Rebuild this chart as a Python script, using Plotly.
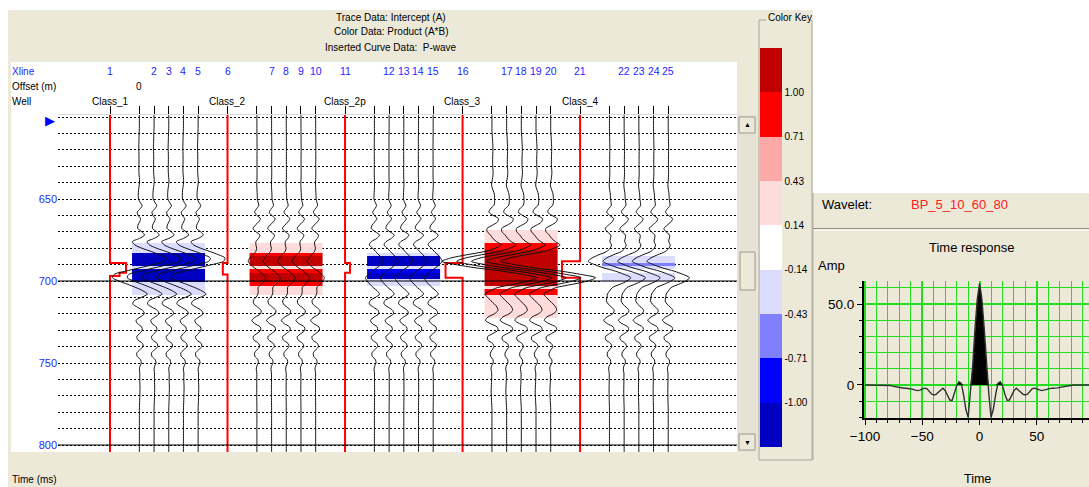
import plotly.graph_objects as go

W, H = 1089, 487
FONT = "Liberation Sans"
BEIGE = "#ECE9D8"
BLUE_TXT = "#1F1FFF"

# ---------------- model layout (x in trace-spacing units) ----------------
well_names = ["Class_1", "Class_2", "Class_2p", "Class_3", "Class_4"]
well_pos = [0, 8, 16, 24, 32]
trace_slots = [2, 3, 4, 5, 6]
xline_numbers = list(range(1, 26))
offset_label = "0"
px_per_spacing = 14.69

# P-wave log inserted at each well: times where the curve steps and the new shift
pwave_break_times = [[689, 695, 697], [689, 696], [689, 695], [689, 698], [688, 698]]
pwave_shifts = [[1.09, 0.65, 0.0], [-0.32, 0.0], [0.34, 0.0], [-1.16, 0.0], [-1.23, 0.0]]

# intercept reflections for each model: times (ms) and amplitudes (trace spacings)
refl_times = [[686, 698], [688, 698], [688, 698], [688, 698], [688, 698]]
refl_amps = [[1.48, -1.48], [-0.45, 0.45], [0.46, -0.46], [-2.7, 2.2], [-1.1, 1.1]]

# ringing common to every synthetic trace (deflection in pixels)
ring_times = list(range(644, 760, 2))
ring_px = [
    0, 0, 0, 0, 1, 2, 0, -2, 0, 3, 1, -2, -3.5, 0, 4, 2, -2, -3, -1, 0,
    0, 0, 0, 0, 0, 0, 0, 0, 0, 0,
    0, 2, 3, 0, -4, -4, 0, 4, 4, -1, -4.5, -2, 3, 3.5, 0, -3.5, -2.5, 2, 3, 0,
    -2.5, -2, 1, 1.5, 0, -0.5, 0, 0,
]

# wavelet BP_5_10_60_80, time response
wavelet_time = list(range(-100, 101, 2))
wavelet_amp = [
    0, 0, 0, 0, 0, 0, 0, 0, 0, 0, 0,
    -0.3, -0.7, -1.0, -1.2, -1.5, -1.8, -2.0, -2.0, -2.1, -2.3,
    -2.7, -3.2, -3.5, -3.2, -2.6, -2.0, -2.2, -4.0, -5.6, -6.2,
    -5.8, -4.5, -3.0, -2.0, -3.5, -6.5, -9.3, -9.5, -5.5, -0.5,
    2.0, 1.0, -6.0, -15.0, -20.0, -5.0, 12.0, 35.0, 53.0,
    62.8,
    53.0, 35.0, 12.0, -5.0, -20.0, -15.0, -6.0, 1.0, 2.0,
    -0.5, -5.5, -9.5, -9.3, -6.5, -3.5, -2.0, -3.0, -4.5, -5.8,
    -6.2, -5.6, -4.0, -2.2, -2.0, -2.6, -3.2, -3.5, -3.2, -2.7,
    -2.3, -2.1, -2.0, -2.0, -1.8, -1.5, -1.2, -1.0, -0.7, -0.3,
    0, 0, 0, 0, 0, 0, 0, 0, 0, 0, 0,
]

# colour data: product A*B sampled every 2 ms (None = no colour)
color_times = list(range(668, 728, 2))
N = None
product_values = [
    # Class_1
    [N, N, N, N, N, -0.3, -0.3, -0.3, -1.1, -1.1, -1.1, -1.1, -0.3, -1.1, -1.1,
     -1.1, -1.1, -0.3, -0.3, -0.3, -0.3, N, N, N, N, N, N, N, N, N],
    # Class_2
    [N, N, N, N, N, 0.3, 0.3, 0.3, 0.85, 1.1, 1.1, 1.1, 0.3, 0.85, 1.1,
     1.1, 1.1, 0.85, 0.3, 0.3, 0.3, N, N, N, N, N, N, N, N, N],
    # Class_2p
    [N, N, N, N, N, N, N, N, -0.3, -1.1, -1.1, -1.1, -0.3, -0.85, -1.1,
     -1.1, -0.3, -0.3, N, N, N, N, N, N, N, N, N, N, N, N],
    # Class_3
    [N, 0.3, 0.3, 0.3, 0.3, 0.85, 0.85, 1.1, 1.1, 1.1, 1.1, 1.1, 1.1, 1.1, 1.1,
     1.1, 1.1, 1.1, 0.3, 0.85, 0.85, 0.3, 0.3, 0.3, 0.3, 0.3, 0.3, 0.3, N, N],
    # Class_4
    [N, N, N, N, N, N, N, N, N, -0.3, -0.3, -0.55, -0.3, N, -0.3,
     -0.3, -0.3, N, N, N, N, N, N, N, N, N, N, N, N, N],
]

# colour key
key_colors = ["#0000C0", "#0000FF", "#8080FF", "#DCDCFF", "#FFFFFF",
              "#FFDCDC", "#FFA8A8", "#FF0000", "#C00000"]
key_min, key_max = -1.29, 1.29
key_labels = ["-1.00", "-0.71", "-0.43", "-0.14", "0.14", "0.43", "0.71", "1.00"]

time_ticks = [650, 700, 750, 800]
solid_time_lines = [700, 800]
trace_times = list(range(596, 808, 2))


# ---------------- helpers ----------------
def px(x):
    return x / W


def py(y):
    return 1 - y / H


w_lookup = dict(zip(wavelet_time, wavelet_amp))
w_peak = max(wavelet_amp)
ring_lookup = dict(zip(ring_times, ring_px))


def synthetic(times, rt, ra):
    out = []
    for t in times:
        s = ring_lookup.get(t, 0.0) / px_per_spacing
        for t0, a in zip(rt, ra):
            s += a * w_lookup.get(t - t0, 0.0) / w_peak
        out.append(s)
    return out


fig = go.Figure()

# colour data blocks
ncol = len(key_colors)
cscale = []
for i, c in enumerate(key_colors):
    cscale.append([i / ncol, c])
    cscale.append([(i + 1) / ncol, c])

for k, u0 in enumerate(well_pos):
    xs = [u0 + s for s in trace_slots]
    z = [[v] * len(xs) for v in product_values[k]]
    fig.add_trace(go.Heatmap(x=xs, y=color_times, z=z, coloraxis="coloraxis",
                             hoverinfo="skip", xaxis="x", yaxis="y"))

# wells with inserted P-wave curve
for k, u0 in enumerate(well_pos):
    xs = [u0] + [u0 + s for s in pwave_shifts[k]] + [u0]
    ys = [trace_times[0]] + pwave_break_times[k] + [trace_times[-1]]
    fig.add_trace(go.Scatter(x=xs, y=ys, mode="lines", line=dict(color="#FF0000", width=2, shape="vh"),
                             hoverinfo="skip", xaxis="x", yaxis="y"))

# intercept wiggle traces
for k, u0 in enumerate(well_pos):
    defl = synthetic(trace_times, refl_times[k], refl_amps[k])
    for s in trace_slots:
        fig.add_trace(go.Scatter(x=[u0 + s + d for d in defl], y=trace_times, mode="lines",
                                 line=dict(color="#111111", width=1, shape="spline", smoothing=0.8),
                                 hoverinfo="skip", xaxis="x", yaxis="y"))

# wavelet time response
fig.add_trace(go.Scatter(x=wavelet_time, y=[max(a, 0) for a in wavelet_amp], mode="lines",
                         line=dict(width=0, color="black"), fill="tozeroy", fillcolor="black",
                         hoverinfo="skip", xaxis="x2", yaxis="y2"))
fig.add_trace(go.Scatter(x=wavelet_time, y=wavelet_amp, mode="lines",
                         line=dict(color="#303030", width=1.4),
                         hoverinfo="skip", xaxis="x2", yaxis="y2"))

# ---------------- panels / decorations ----------------
shapes = []


def rect(x0, y0, x1, y1, fill, line=None, lw=0, layer="below"):
    shapes.append(dict(type="rect", xref="paper", yref="paper", x0=px(x0), x1=px(x1),
                       y0=py(y1), y1=py(y0), fillcolor=fill,
                       line=dict(color=line or fill, width=lw), layer=layer))


def seg(x0, y0, x1, y1, color, lw=1, layer="below"):
    shapes.append(dict(type="line", xref="paper", yref="paper", x0=px(x0), x1=px(x1),
                       y0=py(y0), y1=py(y1), line=dict(color=color, width=lw), layer=layer))


rect(8, 10, 813, 487, BEIGE)
rect(11, 62, 737, 452, "#FFFFFF")
# scrollbar
rect(737, 115, 757, 452, "#E6E3D6")
rect(739, 117, 755, 133, BEIGE, "#9C9A8C", 1)
rect(740, 252, 755, 290, BEIGE, "#9C9A8C", 1)
rect(739, 434, 755, 450, BEIGE, "#9C9A8C", 1)
# colour key group box
seg(759, 20, 766, 20, "#A8A698")
seg(759, 20, 759, 460, "#A8A698")
seg(759, 460, 812, 460, "#A8A698")
seg(812, 20, 812, 460, "#A8A698")
# wavelet panel
rect(813, 193, 1089, 487, BEIGE)
seg(813, 228.5, 1089, 228.5, "#8E8C80", 1.2)
seg(813, 230, 1089, 230, "#FFFFFF", 1)
seg(813, 193, 813, 460, "#A8A698")

# solid time lines across the section
for t in solid_time_lines:
    shapes.append(dict(type="line", xref="x domain", yref="y", x0=0, x1=1, y0=t, y1=t,
                       line=dict(color="black", width=1.2), layer="above"))

annotations = []


def note(text, x, y, size=10, color="black", xanchor="center", xref="paper"):
    annotations.append(dict(text=text, x=px(x) if xref == "paper" else x, y=py(y),
                            xref=xref, yref="paper", showarrow=False,
                            font=dict(family=FONT, size=size, color=color),
                            xanchor=xanchor, yanchor="middle"))


note("Trace Data: Intercept (A)", 391, 17)
note("Color Data: Product (A*B)", 391, 32)
note("Inserted Curve Data:  P-wave", 391, 47)
note("Xline", 10, 71, color=BLUE_TXT, xanchor="left")
note("Offset (m)", 10, 86, xanchor="left")
note("Well", 10, 101, xanchor="left")
note("Time (ms)", 10, 479, xanchor="left")
note("\u25B6", 50, 121, size=13, color="#0000FF")
note("\u25B2", 747, 125, size=7)
note("\u25BC", 747, 442, size=7)
note("Color Key", 766, 18, xanchor="left")

xline_pos = []
for u0 in well_pos:
    xline_pos += [u0] + [u0 + s for s in trace_slots[1:]]
for num, u in zip(xline_numbers, xline_pos):
    note(str(num), u, 71, size=10.5, color=BLUE_TXT, xref="x")
note(offset_label, well_pos[0] + trace_slots[0], 86, xref="x")
for name, u in zip(well_names, well_pos):
    note(name, u, 101, xref="x")

note("Wavelet:", 820, 205, size=13, xanchor="left")
note("BP_5_10_60_80", 909, 205, size=13, color="#FF2020", xanchor="left")
note("Time response", 972, 247, size=13)
note("Amp", 816, 265, size=13, xanchor="left")
note("Time", 977, 479, size=12.5)

all_pos = sorted(well_pos + [u0 + s for u0 in well_pos for s in trace_slots])
u_left = (58 - 110) / px_per_spacing
u_right = (737 - 110) / px_per_spacing
GREEN = "#22DD22"
DOTS = "2px,2px"

fig.update_layout(
    width=W, height=H, margin=dict(l=0, r=0, t=0, b=0, autoexpand=False),
    paper_bgcolor="#FFFFFF", plot_bgcolor="#FFFFFF", showlegend=False,
    font=dict(family=FONT, size=10, color="black"),
    shapes=shapes, annotations=annotations,
    coloraxis=dict(
        colorscale=cscale, cmin=key_min, cmax=key_max,
        colorbar=dict(x=px(760), xanchor="left", y=py(48), yanchor="top",
                      thickness=22, thicknessmode="pixels", len=399, lenmode="pixels",
                      xpad=0, ypad=0, outlinewidth=0, ticks="", ticklen=0,
                      tickvals=[key_min + (i + 1) * (key_max - key_min) / ncol for i in range(ncol - 1)],
                      ticktext=key_labels, tickfont=dict(family=FONT, size=10, color="black"),
                      bgcolor="rgba(0,0,0,0)"),
    ),
    xaxis=dict(domain=[px(58), px(737)], range=[u_left, u_right], side="top", anchor="y",
               automargin=False,
               tickmode="array", tickvals=all_pos, ticks="outside", ticklen=8, tickwidth=1,
               tickcolor="black", showticklabels=False, showgrid=False, zeroline=False,
               showline=True, linecolor="#D8D8D8", linewidth=1),
    yaxis=dict(domain=[py(452), py(115)], range=[804.27, 598.78], anchor="x",
               automargin=False,
               tickmode="array", tickvals=time_ticks, ticks="",
               tickfont=dict(family=FONT, size=11, color=BLUE_TXT),
               showgrid=True, gridcolor="black", griddash=DOTS, gridwidth=1,
               minor=dict(tickmode="linear", tick0=600, dtick=10, showgrid=True,
                          gridcolor="black", griddash=DOTS, gridwidth=1),
               zeroline=False, showline=False),
    xaxis2=dict(domain=[px(864), 1.0], range=[-100.9, 95.5], anchor="y2", automargin=False,
                tickmode="array", tickvals=[-100, -50, 0, 50], ticks="outside", ticklen=5,
                tickcolor="black", tickfont=dict(family=FONT, size=13.5, color="black"),
                showgrid=True, gridcolor=GREEN, gridwidth=2, zeroline=False,
                showline=True, linecolor="black", linewidth=2,
                minor=dict(tickmode="linear", tick0=0, dtick=10, ticks="outside", ticklen=3,
                           tickcolor="black", showgrid=True, gridcolor=GREEN, gridwidth=1)),
    yaxis2=dict(domain=[py(418), py(281)], range=[-20.4, 64.2], anchor="x2", automargin=False,
                tickmode="array", tickvals=[0, 50], ticktext=["0", "50.0"], ticks="outside",
                ticklen=5, tickcolor="black", tickfont=dict(family=FONT, size=13.5, color="black"),
                showgrid=True, gridcolor=GREEN, gridwidth=2, zeroline=False,
                showline=True, linecolor="black", linewidth=2,
                minor=dict(tickmode="linear", tick0=0, dtick=10, ticks="outside", ticklen=3,
                           tickcolor="black", showgrid=True, gridcolor=GREEN, gridwidth=1)),
)

fig.write_html("out.html")
